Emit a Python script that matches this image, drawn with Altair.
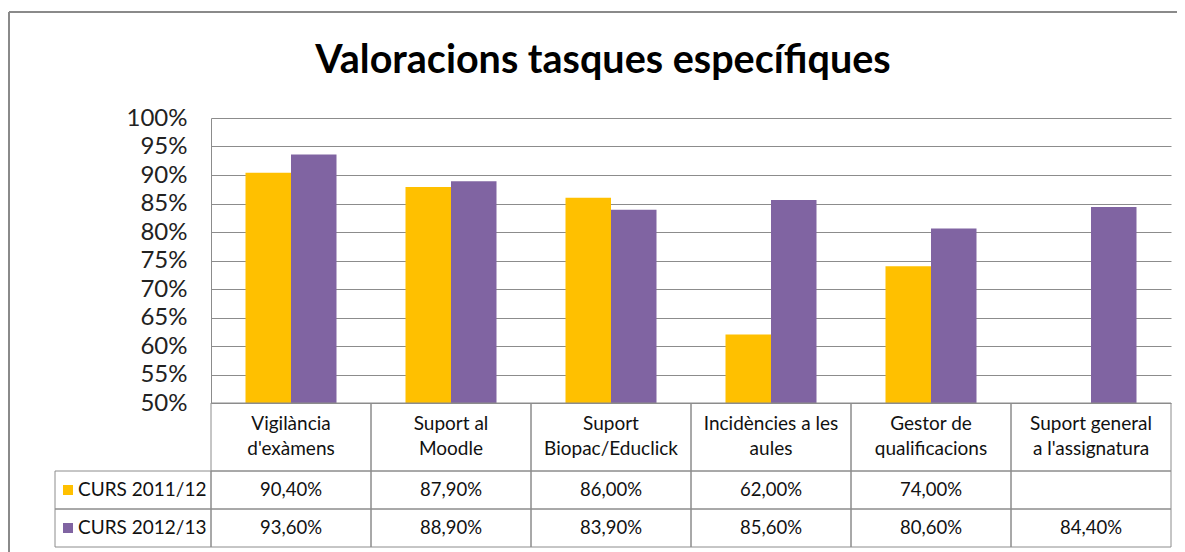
import altair as alt
import pandas as pd

categories = [
    "Vigilància\nd'exàmens",
    "Suport al\nMoodle",
    "Suport\nBiopac/Educlick",
    "Incidències a les\naules",
    "Gestor de\nqualificacions",
    "Suport general\na l'assignatura",
]
series = ["CURS 2011/12", "CURS 2012/13"]
values_2011 = [90.4, 87.9, 86.0, 62.0, 74.0, None]
values_2012 = [93.6, 88.9, 83.9, 85.6, 80.6, 84.4]
colors = ["#FFC000", "#8064A2"]
y_ticks = [50, 55, 60, 65, 70, 75, 80, 85, 90, 95, 100]
title_text = "Valoracions tasques específiques"

FONT = "Lato"
GRID = "#8c8c8c"
TFS = 19


def fmt(v):
    return "" if v is None else f"{v:.2f}%".replace(".", ",")


rows = []
for s, vals in zip(series, [values_2011, values_2012]):
    for c, v in zip(categories, vals):
        rows.append({"cat": c, "series": s, "value": v, "label": fmt(v)})
df = pd.DataFrame(rows)
bars_df = df.dropna(subset=["value"])
cats_df = pd.DataFrame({"cat": categories})

W, H = 960, 285
PAD = {"left": 203, "top": 110, "right": 6, "bottom": 149}

bars = alt.Chart(bars_df).mark_bar().encode(
    x=alt.X("cat:N", sort=categories,
            scale=alt.Scale(paddingInner=0.43125, paddingOuter=0.215625), axis=None),
    xOffset=alt.XOffset("series:N", sort=series,
                        scale=alt.Scale(paddingInner=0, paddingOuter=0)),
    y=alt.Y("value:Q", scale=alt.Scale(domain=[50, 100], nice=False, zero=False),
            axis=alt.Axis(values=y_ticks, labelExpr="datum.value + '%'", title=None,
                          labelFont=FONT, labelFontSize=24, labelColor="#222222",
                          labelPadding=24, ticks=False, domainColor=GRID,
                          gridColor=GRID, grid=True, domainWidth=1)),
    y2=alt.datum(50),
    color=alt.Color("series:N", scale=alt.Scale(domain=series, range=colors), legend=None),
)

tx = alt.X("cat:N", sort=categories, scale=alt.Scale(paddingInner=0, paddingOuter=0), axis=None)

layers = [bars]

# header row
layers.append(
    alt.Chart(cats_df).mark_rect(filled=False, stroke=GRID, strokeWidth=1).encode(
        x=tx, y=alt.value(H), y2=alt.value(H + 68))
)
layers.append(
    alt.Chart(cats_df).mark_text(font=FONT, fontSize=TFS, lineBreak="\n", lineHeight=25,
                                 baseline="middle", color="#111111").encode(
        x=tx, y=alt.value(H + 21), text="cat:N")
)

for i, s in enumerate(series):
    y0 = H + 68 + 38 * i
    y1 = y0 + 38
    ym = (y0 + y1) / 2
    sdf = df[df["series"] == s]
    one = pd.DataFrame({"series": [s]})
    layers.append(
        alt.Chart(sdf).mark_rect(filled=False, stroke=GRID, strokeWidth=1).encode(
            x=tx, y=alt.value(y0), y2=alt.value(y1))
    )
    layers.append(
        alt.Chart(sdf).mark_text(font=FONT, fontSize=18.5, baseline="middle",
                                 color="#111111").encode(
            x=tx, y=alt.value(ym), text="label:N")
    )
    layers.append(
        alt.Chart(one).mark_rect(filled=False, stroke=GRID, strokeWidth=1).encode(
            x=alt.value(-156), x2=alt.value(0), y=alt.value(y0), y2=alt.value(y1))
    )
    layers.append(
        alt.Chart(one).mark_square(size=100, opacity=1, color=colors[i]).encode(
            x=alt.value(-143), y=alt.value(ym))
    )
    layers.append(
        alt.Chart(one).mark_text(font=FONT, fontSize=TFS, align="left", baseline="middle",
                                 color="#111111").encode(
            x=alt.value(-133), y=alt.value(ym), text="series:N")
    )

# title
layers.append(
    alt.Chart(pd.DataFrame({"t": [title_text]})).mark_text(
        font=FONT, fontSize=39.5, fontWeight="bold", color="#000000",
        align="center", baseline="alphabetic").encode(
        x=alt.value(392), y=alt.value(-45), text="t:N")
)

# outer frame (top and left edges; right and bottom lie beyond the picture)
frame_df = pd.DataFrame({"a": [0]})
layers.append(
    alt.Chart(frame_df).mark_rule(stroke="#8a8a8a", strokeWidth=2).encode(
        x=alt.value(-202), x2=alt.value(W + PAD["right"]), y=alt.value(-106))
)
layers.append(
    alt.Chart(frame_df).mark_rule(stroke="#8a8a8a", strokeWidth=2).encode(
        x=alt.value(-202), y=alt.value(-106), y2=alt.value(H + PAD["bottom"]))
)

chart = alt.layer(*layers).resolve_scale(x="independent").properties(
    width=W, height=H,
    padding=PAD,
    autosize=alt.AutoSizeParams(type="none"),
).configure_view(stroke=None)

chart.save("out.html", embed_options={"renderer": "svg", "actions": False})
